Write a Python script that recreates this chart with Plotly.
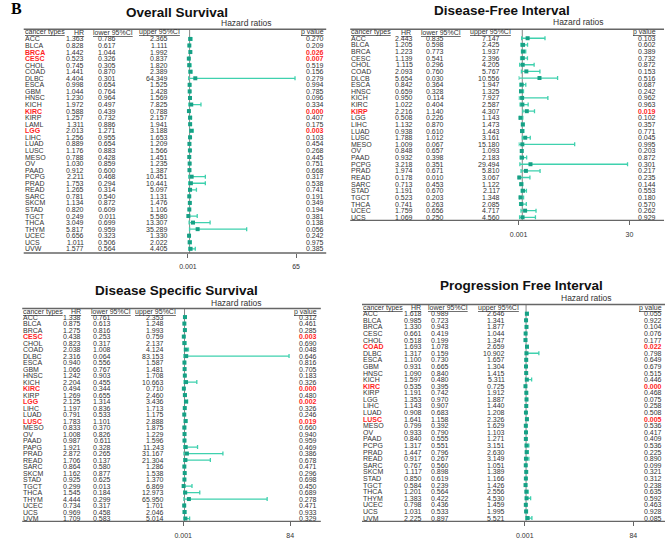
import plotly.graph_objects as go

W, H = 669, 539

# ---------------- DATA ----------------
os_types = ["ACC","BLCA","BRCA","CESC","CHOL","COAD","DLBC","ESCA","GBM","HNSC","KICH","KIRC","KIRP","LAML","LGG","LIHC","LUAD","LUSC","MESO","OV","PAAD","PCPG","PRAD","READ","SARC","SKCM","STAD","TGCT","THCA","THYM","UCEC","UCS","UVW"]
os_hr = [1.363,0.828,1.442,0.523,0.745,1.441,4.404,0.998,1.044,1.230,1.972,0.588,1.257,1.311,2.013,1.256,0.889,1.176,0.788,1.030,0.912,2.211,1.753,1.265,0.781,1.134,0.820,0.249,3.049,5.817,0.656,1.011,1.577]
os_low = [0.786,0.617,1.044,0.326,0.305,0.870,0.301,0.654,0.764,0.964,0.497,0.439,0.732,0.886,1.271,0.955,0.654,0.883,0.428,0.859,0.600,0.468,0.294,0.314,0.540,0.872,0.609,0.011,0.699,0.959,0.323,0.506,0.564]
os_up = [2.365,1.111,1.992,0.837,1.820,2.389,64.349,1.525,1.428,1.569,7.825,0.788,2.157,1.941,3.188,1.653,1.209,1.566,1.451,1.235,1.387,10.451,10.441,5.097,1.131,1.476,1.106,5.580,13.307,35.289,1.330,2.022,4.405]
os_p = [0.270,0.209,0.026,0.007,0.519,0.156,0.279,0.994,0.785,0.096,0.334,0.000,0.407,0.175,0.003,0.103,0.454,0.268,0.445,0.751,0.668,0.317,0.538,0.741,0.191,0.349,0.194,0.381,0.138,0.056,0.242,0.975,0.385]
os_red = ["BRCA","CESC","KIRC","LGG"]

dfi_types = ["ACC","BLCA","BRCA","CESC","CHOL","COAD","DLCB","ESCA","HNSC","KICH","KIRC","KIRP","LGG","LIHC","LUAD","LUSC","MESO","OV","PAAD","PCPG","PRAD","READ","SARC","STAD","TGCT","THCA","UCEC","UCS"]
dfi_hr = [2.443,1.205,1.223,1.139,1.115,2.093,5.654,0.842,0.659,0.950,1.022,2.216,0.508,1.132,0.938,1.788,1.009,0.848,0.932,3.218,1.974,0.178,0.713,1.191,0.523,0.741,1.759,1.069]
dfi_low = [0.835,0.598,0.773,0.541,0.296,0.760,0.030,0.364,0.328,0.114,0.404,1.140,0.226,0.870,0.610,1.012,0.067,0.657,0.398,0.351,0.671,0.010,0.453,0.670,0.203,0.263,0.656,0.250]
dfi_up = [7.147,2.425,1.937,2.396,4.205,5.767,10.556,1.947,1.325,7.927,2.587,4.307,1.143,1.473,1.443,3.161,15.180,1.093,2.183,29.494,5.810,3.067,1.122,2.117,1.348,2.085,4.717,4.560]
dfi_p = [0.103,0.602,0.389,0.732,0.872,0.153,0.516,0.687,0.242,0.962,0.963,0.019,0.102,0.357,0.771,0.045,0.995,0.203,0.872,0.301,0.217,0.235,0.144,0.553,0.180,0.570,0.262,0.929]
dfi_red = ["KIRP"]

dss_types = ["ACC","BLCA","BRCA","CESC","CHOL","COAD","DLBC","ESCA","GBM","HNSC","KICH","KIRC","KIRP","LGG","LIHC","LUAD","LUSC","MESO","OV","PAAD","PAPG","PRAD","READ","SARC","SKCM","STAD","TGCT","THCA","THYM","UCEC","UCS","UVM"]
dss_hr = [1.338,0.875,1.275,0.438,0.823,2.038,2.316,0.940,1.066,1.242,2.204,0.494,1.269,2.125,1.197,0.791,1.783,0.833,1.008,0.987,1.921,2.872,1.706,0.864,1.162,0.925,0.299,1.545,4.444,0.734,0.969,1.709]
dss_low = [0.761,0.613,0.816,0.253,0.317,1.008,0.064,0.556,0.767,0.903,0.455,0.344,0.655,1.314,0.836,0.533,1.101,0.370,0.826,0.611,0.328,0.265,0.137,0.580,0.877,0.625,0.013,0.184,0.299,0.317,0.458,0.583]
dss_up = [2.353,1.248,1.993,0.759,2.137,4.124,83.153,1.587,1.481,1.708,10.663,0.710,2.460,3.436,1.713,1.175,2.888,1.875,1.229,1.596,11.243,31.167,21.304,1.286,1.538,1.370,6.869,12.973,65.950,1.701,2.046,5.014]
dss_p = [0.312,0.461,0.285,0.003,0.690,0.048,0.646,0.816,0.705,0.183,0.326,0.000,0.480,0.002,0.326,0.246,0.019,0.660,0.940,0.959,0.469,0.386,0.678,0.471,0.296,0.698,0.450,0.689,0.278,0.471,0.933,0.329]
dss_red = ["CESC","KIRC","LGG","LUSC"]

pfi_types = ["ACC","BLCA","BRCA","CESC","CHOL","COAD","DLBC","ESCA","GBM","HNSC","KICH","KIRC","KIRP","LGG","LIHC","LUAD","LUSC","MESO","OV","PAAD","PCPG","PRAD","READ","SARC","SKCM","STAD","TGCT","THCA","THYM","UCEC","UCS","UVM"]
pfi_hr = [1.618,0.985,1.330,0.661,0.518,1.693,1.317,1.100,0.931,1.090,1.597,0.535,1.191,1.353,1.143,0.908,1.641,0.799,0.933,0.840,1.317,1.447,0.917,0.767,1.117,0.850,0.584,1.201,1.383,0.798,1.031,2.225]
pfi_low = [0.989,0.723,0.943,0.419,0.199,1.078,0.159,0.730,0.665,0.840,0.480,0.395,0.742,0.970,0.907,0.683,1.158,0.392,0.790,0.555,0.551,0.796,0.267,0.560,0.898,0.619,0.239,0.564,0.422,0.436,0.533,0.897]
pfi_up = [2.646,1.341,1.877,1.044,1.347,2.659,10.902,1.657,1.304,1.415,5.311,0.725,1.912,1.887,1.440,1.208,2.326,1.629,1.103,1.271,3.151,2.630,3.149,1.051,1.389,1.166,1.426,2.556,4.530,1.459,1.995,5.521]
pfi_p = [0.055,0.922,0.104,0.076,0.177,0.022,0.798,0.649,0.679,0.515,0.446,0.000,0.468,0.075,0.258,0.508,0.005,0.536,0.417,0.409,0.536,0.225,0.890,0.099,0.321,0.312,0.238,0.635,0.592,0.463,0.928,0.085]
pfi_red = ["COAD","KIRC","LUSC"]

titles = ["Overall Survival", "Disease-Free Interval", "Disease Specific Survival", "Progression Free Interval"]
axis_max = [65, 30, 84, 84]
tick_texts = [["0.001", "65"], ["0.001", "30"], ["0.001", "84"], ["0.001", "84"]]
headers = ["cancer types", "HR", "lower 95%CI", "upper 95%CI", "p value"]

# ---------------- LAYOUT (pixel positions) ----------------
panels = [
    dict(types=os_types, hr=os_hr, low=os_low, up=os_up, p=os_p, red=os_red,
         y0=39.0, ylast=249.3, top=29.3, bot=253.5, head=32.5,
         ct=15, hr_r=77, hr_h=71.5, lo_r=110, lo_h=106, up_r=163.3, up_h=153.7, p_r=322, l0=15, l1=323.5,
         ax0=182.5, ax1=292.8, tx=171, ty=13, hx=242, hy=23),
    dict(types=dfi_types, hr=dfi_hr, low=dfi_low, up=dfi_up, p=dfi_p, red=dfi_red,
         y0=38.3, ylast=217.7, top=29.3, bot=220.8, head=32.5,
         ct=348, hr_r=413.3, hr_h=405, lo_r=445, lo_h=441, up_r=501.7, up_h=490.8, p_r=660.5, l0=348, l1=668,
         ax0=519.7, ax1=632.7, tx=503, ty=11, hx=581, hy=22),
    dict(types=dss_types, hr=dss_hr, low=dss_low, up=dss_up, p=dss_p, red=dss_red,
         y0=317.7, ylast=519.5, top=309.0, bot=522.3, head=312.3,
         ct=13.5, hr_r=74, hr_h=68, lo_r=105, lo_h=103.7, up_r=159.3, up_h=149, p_r=315.5, l0=13.5, l1=318,
         ax0=177.7, ax1=286.7, tx=171, ty=291.5, hx=232, hy=303.5),
    dict(types=pfi_types, hr=pfi_hr, low=pfi_low, up=pfi_up, p=pfi_p, red=pfi_red,
         y0=314.3, ylast=519.0, top=305.0, bot=522.3, head=308.3,
         ct=360, hr_r=421.7, hr_h=415, lo_r=450, lo_h=447.5, up_r=506.7, up_h=498.7, p_r=667, l0=360, l1=669,
         ax0=526, ax1=636.7, tx=523, ty=286.5, hx=589, hy=298.5),
]

TXT = "#333333"
RED = "#ff1f1f"
LINE = "#666666"
MARK = "#16a085"
ERR = "#3fd1ae"
NARROW = "Liberation Sans Narrow, Liberation Sans, Arial"
SANS = "Liberation Sans, Arial"
FS = 7

fig = go.Figure()
annotations = []
shapes = []
layout_axes = {}

def px(x):
    return x / W

def py(y):
    return 1 - y / H

for k, P in enumerate(panels, start=1):
    n = len(P["types"])
    sp = (P["ylast"] - P["y0"]) / (n - 1)
    ytop_val = (P["top"] - P["y0"]) / sp
    ybot_val = (P["bot"] - P["y0"]) / sp
    head_val = (P["head"] - P["y0"]) / sp
    xa = "x" if k == 1 else f"x{k}"
    ya = "y" if k == 1 else f"y{k}"
    xname = "xaxis" if k == 1 else f"xaxis{k}"
    yname = "yaxis" if k == 1 else f"yaxis{k}"
    layout_axes[xname] = dict(domain=[px(P["ax0"]), px(P["ax1"])], range=[0.001, axis_max[k - 1]],
                              anchor=ya, showgrid=False, zeroline=False, showline=False,
                              tickvals=[0.001, axis_max[k - 1]], ticktext=tick_texts[k - 1],
                              ticks="outside", ticklen=4, tickwidth=1, tickcolor=LINE,
                              ticklabelstandoff=3,
                              tickfont=dict(family=SANS, size=7, color=TXT), fixedrange=True)
    layout_axes[yname] = dict(domain=[py(P["bot"]), py(P["top"])], range=[ybot_val, ytop_val],
                              anchor=xa, visible=False, showgrid=False, zeroline=False, fixedrange=True)

    hr = P["hr"]
    fig.add_trace(go.Scatter(
        x=hr, y=list(range(n)), xaxis=xa, yaxis=ya, mode="markers",
        marker=dict(symbol="square", size=4, color=MARK),
        error_x=dict(type="data", symmetric=False,
                     array=[u - h for u, h in zip(P["up"], hr)],
                     arrayminus=[h - l for h, l in zip(hr, P["low"])],
                     color=ERR, thickness=1.3, width=2),
        cliponaxis=False, showlegend=False, hoverinfo="skip"))

    # lines
    shapes.append(dict(type="line", xref="paper", yref=f"{ya} domain", x0=px(P["l0"]), x1=px(P["l1"]),
                       y0=1, y1=1, line=dict(color=LINE, width=1.4)))
    shapes.append(dict(type="line", xref="paper", yref=f"{ya} domain", x0=px(P["l0"]), x1=px(P["l1"]),
                       y0=0, y1=0, line=dict(color=LINE, width=1.4)))
    shapes.append(dict(type="line", xref=xa, yref=f"{ya} domain", x0=1, x1=1,
                       y0=0, y1=1, line=dict(color="#777777", width=0.9), layer="below"))

    # headers
    hdr_pos = [(P["ct"], "left"), (P["hr_h"], "center"), (P["lo_h"], "center"), (P["up_h"], "center"), (P["p_r"], "right")]
    for txt, (xx, anc) in zip(headers, hdr_pos):
        annotations.append(dict(text=f"<u>{txt}</u>", x=px(xx), xref="paper", y=head_val, yref=ya,
                                xanchor=anc, yanchor="middle", showarrow=False, borderpad=0,
                                font=dict(family=NARROW, size=FS, color=TXT)))
    # rows
    for i, ct in enumerate(P["types"]):
        red = ct in P["red"]
        col = RED if red else TXT
        ctxt = f"<b>{ct}</b>" if red else ct
        ptxt = f"<b>{P['p'][i]:.3f}</b>" if red else f"{P['p'][i]:.3f}"
        cells = [(ctxt, P["ct"], "left", col),
                 (f"{hr[i]:.3f}", P["hr_r"], "right", TXT),
                 (f"{P['low'][i]:.3f}", P["lo_r"], "right", TXT),
                 (f"{P['up'][i]:.3f}", P["up_r"], "right", TXT),
                 (ptxt, P["p_r"], "right", col)]
        for txt, xx, anc, c in cells:
            annotations.append(dict(text=txt, x=px(xx), xref="paper", y=i, yref=ya,
                                    xanchor=anc, yanchor="middle", showarrow=False, borderpad=0,
                                    font=dict(family=NARROW, size=FS, color=c)))
    # title and subtitle
    annotations.append(dict(text=f"<b>{titles[k - 1]}</b>", x=px(P["tx"]), y=py(P["ty"]), xref="paper", yref="paper",
                            xanchor="center", yanchor="middle", showarrow=False, borderpad=0,
                            font=dict(family=SANS, size=13.5, color="#111111")))
    annotations.append(dict(text="Hazard ratios", x=px(P["hx"]), y=py(P["hy"]), xref="paper", yref="paper",
                            xanchor="center", yanchor="middle", showarrow=False, borderpad=0,
                            font=dict(family=SANS, size=8.5, color=TXT)))

annotations.append(dict(text="<b>B</b>", x=px(8), y=py(8.5), xref="paper", yref="paper",
                        xanchor="center", yanchor="middle", showarrow=False,
                        font=dict(family="Liberation Serif, Times New Roman", size=16, color="#000000")))

fig.update_layout(width=W, height=H, margin=dict(l=0, r=0, t=0, b=0),
                  paper_bgcolor="white", plot_bgcolor="white",
                  annotations=annotations, shapes=shapes, **layout_axes)

fig.write_html("out.html", config={"displayModeBar": False},
               post_script="document.body.style.margin='0';document.body.style.padding='0';document.body.style.overflow='hidden';")
